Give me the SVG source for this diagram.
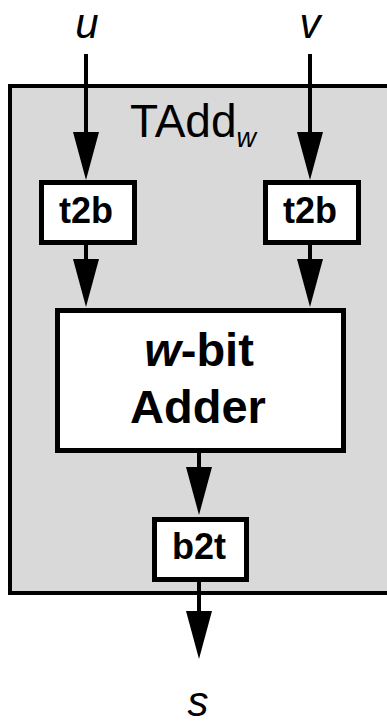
<svg xmlns="http://www.w3.org/2000/svg" width="387" height="725" viewBox="0 0 387 725">
<style>
.box{fill:#fff;stroke:#000;stroke-width:5}
.lbl{font-family:"Liberation Sans",Arial,sans-serif;font-weight:bold;text-anchor:middle;fill:#000}
.var{font-family:"Liberation Sans",Arial,sans-serif;font-style:italic;font-size:42px;text-anchor:middle;fill:#000}
.wire{stroke:#000;stroke-width:4;fill:none;marker-end:url(#ah)}
</style>
<defs>
<marker id="ah" viewBox="0 0 48 26" refX="18" refY="13" markerWidth="48" markerHeight="26" orient="auto" markerUnits="userSpaceOnUse">
<path d="M0,0 L48,13 L0,26 Z" fill="#000"/>
</marker>
</defs>
<g id="tadd">
<rect x="10" y="86" width="400" height="507" fill="#d9d9d9" stroke="#000" stroke-width="4"/>
<text x="130" y="137" font-family="Liberation Sans, Arial, sans-serif" font-size="46" fill="#000">TAdd<tspan font-style="italic" font-size="27" dy="10">w</tspan></text>
</g>
<g id="input-u"><text class="var" x="87" y="38">u</text></g>
<g id="input-v"><text class="var" x="310" y="38">v</text></g>
<g id="output-s"><text class="var" x="198" y="716">s</text></g>
<g id="t2b-left">
<rect class="box" x="41.5" y="182.5" width="93" height="60"/>
<text class="lbl" x="86" y="223" font-size="36">t2b</text>
</g>
<g id="t2b-right">
<rect class="box" x="265.5" y="182.5" width="93" height="60"/>
<text class="lbl" x="310" y="223" font-size="36">t2b</text>
</g>
<g id="adder">
<rect class="box" x="57.5" y="310.5" width="286" height="140"/>
<text class="lbl" x="199" y="366" font-size="47"><tspan font-style="italic">w</tspan>-bit</text>
<text class="lbl" x="198" y="423" font-size="47">Adder</text>
</g>
<g id="b2t">
<rect class="box" x="154.5" y="519.5" width="92" height="60"/>
<text class="lbl" x="199" y="559" font-size="36">b2t</text>
</g>
<g id="connectors">
<line class="wire" x1="86" y1="54" x2="86" y2="150"/>
<line class="wire" x1="310" y1="54" x2="310" y2="150"/>
<line class="wire" x1="86" y1="245" x2="86" y2="277"/>
<line class="wire" x1="310" y1="245" x2="310" y2="277"/>
<line class="wire" x1="199" y1="453" x2="199" y2="485"/>
<line class="wire" x1="199" y1="582" x2="199" y2="629"/>
</g>
</svg>
